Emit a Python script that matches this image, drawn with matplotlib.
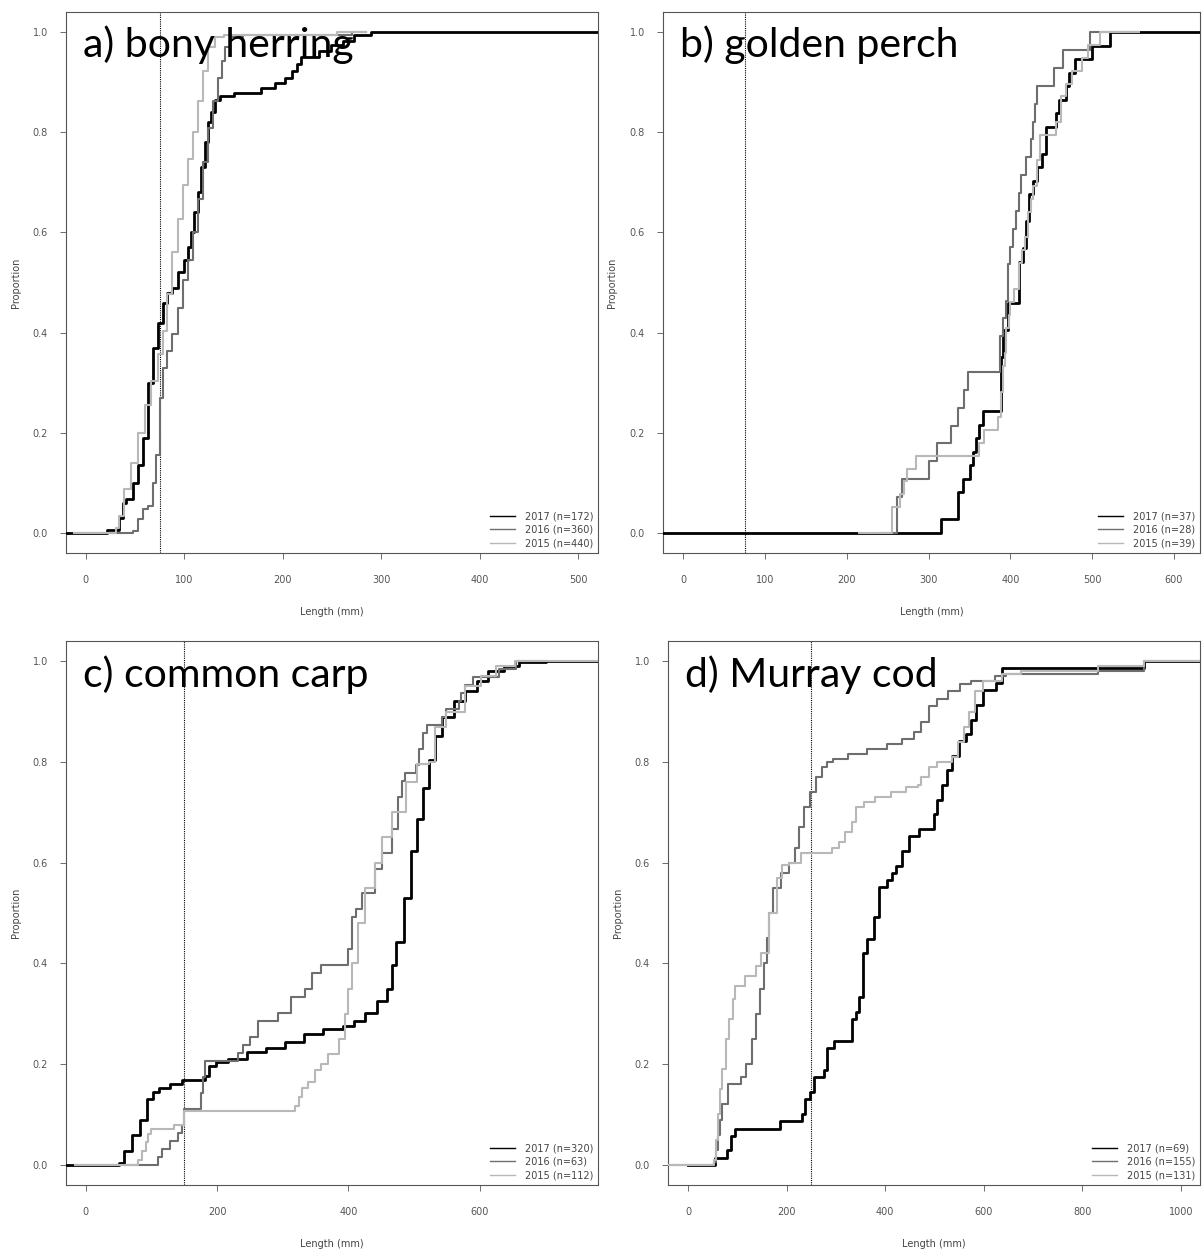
import matplotlib.pyplot as plt
from matplotlib.lines import Line2D

# ---- a) bony herring ----
A_2017_LEN = [22, 34, 38, 41, 48, 53, 58, 63, 68, 73, 78, 83, 88, 94, 100, 104, 107, 110, 114,
              117, 121, 124, 127, 131, 136, 151, 178, 192, 202, 209, 214, 219, 237, 249, 261, 272, 290]
A_2017_PROP = [0.006, 0.03, 0.06, 0.067, 0.10, 0.135, 0.19, 0.30, 0.37, 0.42, 0.46, 0.48, 0.49, 0.52,
               0.545, 0.57, 0.60, 0.64, 0.68, 0.73, 0.78, 0.82, 0.84, 0.865, 0.872, 0.879, 0.889, 0.899,
               0.909, 0.922, 0.936, 0.95, 0.963, 0.975, 0.983, 0.994, 1.0]
A_2016_LEN = [48, 53, 58, 63, 68, 71, 75, 78, 83, 88, 94, 99, 104, 109, 114, 119, 124, 129, 134,
              138, 141, 146, 160, 270]
A_2016_PROP = [0.003, 0.027, 0.047, 0.054, 0.10, 0.155, 0.27, 0.33, 0.364, 0.397, 0.45, 0.505, 0.545,
               0.60, 0.667, 0.74, 0.808, 0.862, 0.909, 0.943, 0.97, 0.99, 0.995, 1.0]
A_2015_LEN = [31, 34, 39, 46, 53, 60, 66, 73, 78, 83, 88, 94, 99, 104, 109, 114, 119, 124, 131, 140, 255]
A_2015_PROP = [0.01, 0.034, 0.088, 0.14, 0.20, 0.256, 0.303, 0.357, 0.404, 0.478, 0.56, 0.626, 0.694,
               0.747, 0.80, 0.862, 0.922, 0.97, 0.99, 0.995, 1.0]

# ---- b) golden perch ----
B_2017_LEN = [315, 336, 342, 350, 354, 358, 362, 366, 388, 391, 397, 411, 416, 419, 423, 428, 432,
              439, 444, 456, 460, 468, 472, 479, 500, 522]
B_2017_PROP = [0.027, 0.081, 0.108, 0.135, 0.162, 0.189, 0.216, 0.243, 0.351, 0.405, 0.459, 0.541,
               0.568, 0.622, 0.676, 0.703, 0.730, 0.757, 0.811, 0.838, 0.865, 0.892, 0.919, 0.946,
               0.973, 1.0]
B_2016_LEN = [261, 268, 301, 310, 327, 336, 343, 348, 387, 391, 395, 397, 400, 403, 407, 410, 413,
              419, 425, 428, 430, 432, 453, 464, 497]
B_2016_PROP = [0.071, 0.107, 0.143, 0.179, 0.214, 0.25, 0.286, 0.321, 0.393, 0.429, 0.464, 0.536,
               0.571, 0.607, 0.643, 0.679, 0.714, 0.75, 0.786, 0.821, 0.857, 0.893, 0.929, 0.964, 1.0]
B_2015_LEN = [255, 265, 270, 273, 285, 362, 368, 385, 388, 391, 393, 395, 398, 400, 405, 410, 414,
              418, 421, 425, 428, 433, 436, 456, 462, 468, 475, 488, 495, 510]
B_2015_PROP = [0.051, 0.077, 0.103, 0.128, 0.154, 0.179, 0.205, 0.231, 0.282, 0.333, 0.359, 0.41,
               0.436, 0.462, 0.487, 0.538, 0.564, 0.59, 0.641, 0.667, 0.692, 0.744, 0.795, 0.821,
               0.872, 0.897, 0.923, 0.949, 0.974, 1.0]

# ---- c) common carp ----
C_2017_LEN = [50, 58, 70, 82, 93, 102, 111, 128, 146, 181, 187, 199, 216, 245, 274, 304, 333, 362,
              391, 409, 426, 444, 458, 467, 473, 485, 496, 505, 514, 523, 532, 543, 561, 578, 596,
              613, 637, 660, 701]
C_2017_PROP = [0.004, 0.027, 0.059, 0.09, 0.13, 0.145, 0.153, 0.16, 0.169, 0.176, 0.196, 0.204, 0.21,
               0.224, 0.231, 0.243, 0.259, 0.27, 0.276, 0.286, 0.302, 0.325, 0.349, 0.396, 0.443,
               0.53, 0.624, 0.686, 0.749, 0.804, 0.851, 0.89, 0.92, 0.94, 0.96, 0.98, 0.99, 0.998, 1.0]
C_2016_LEN = [110, 116, 128, 140, 146, 150, 175, 178, 181, 232, 240, 250, 262, 293, 313, 334, 344,
              359, 400, 405, 412, 420, 441, 451, 466, 475, 481, 486, 503, 508, 514, 520, 543, 548,
              568, 572, 578, 590, 629, 655]
C_2016_PROP = [0.016, 0.032, 0.048, 0.063, 0.079, 0.111, 0.143, 0.175, 0.206, 0.222, 0.238, 0.254,
               0.286, 0.302, 0.333, 0.349, 0.381, 0.397, 0.429, 0.492, 0.508, 0.540, 0.587, 0.619,
               0.667, 0.73, 0.762, 0.778, 0.794, 0.825, 0.857, 0.873, 0.889, 0.905, 0.921, 0.937,
               0.952, 0.968, 0.984, 1.0]
C_2015_LEN = [79, 85, 92, 95, 100, 134, 150, 319, 324, 330, 339, 349, 359, 369, 385, 395, 400, 405,
              415, 425, 441, 451, 466, 487, 505, 522, 532, 549, 578, 602, 625, 654]
C_2015_PROP = [0.009, 0.027, 0.045, 0.062, 0.071, 0.080, 0.107, 0.116, 0.134, 0.152, 0.165, 0.188,
               0.2, 0.22, 0.25, 0.3, 0.35, 0.4, 0.48, 0.55, 0.6, 0.65, 0.7, 0.76, 0.795, 0.80, 0.87,
               0.9, 0.95, 0.97, 0.99, 1.0]

# ---- d) Murray cod ----
D_2017_LEN = [54, 79, 86, 96, 187, 231, 238, 248, 255, 275, 282, 296, 333, 340, 347, 354, 363, 377,
              387, 404, 414, 421, 435, 448, 469, 499, 506, 516, 526, 536, 550, 564, 574, 584, 598,
              625, 638, 926]
D_2017_PROP = [0.014, 0.029, 0.058, 0.072, 0.087, 0.101, 0.13, 0.145, 0.174, 0.188, 0.232, 0.246,
               0.29, 0.304, 0.333, 0.42, 0.449, 0.493, 0.551, 0.565, 0.58, 0.594, 0.623, 0.652,
               0.667, 0.696, 0.725, 0.754, 0.783, 0.812, 0.841, 0.855, 0.884, 0.913, 0.942, 0.957,
               0.986, 1.0]
D_2016_LEN = [52, 56, 60, 64, 68, 80, 107, 118, 130, 138, 146, 154, 159, 165, 173, 189, 204, 216,
              224, 236, 247, 259, 271, 282, 294, 325, 364, 403, 434, 458, 473, 489, 505, 528, 551,
              575, 622, 645, 832, 926]
D_2016_PROP = [0.006, 0.03, 0.06, 0.09, 0.12, 0.16, 0.175, 0.2, 0.25, 0.3, 0.35, 0.4, 0.45, 0.5,
               0.55, 0.58, 0.6, 0.63, 0.67, 0.71, 0.74, 0.77, 0.79, 0.80, 0.805, 0.815, 0.825, 0.835,
               0.845, 0.86, 0.88, 0.91, 0.925, 0.94, 0.955, 0.96, 0.97, 0.975, 0.98, 1.0]
D_2015_LEN = [52, 56, 60, 64, 69, 76, 83, 90, 96, 116, 137, 147, 164, 181, 191, 204, 228, 292, 306,
              318, 333, 340, 356, 380, 411, 442, 466, 473, 489, 505, 536, 548, 559, 571, 583, 598,
              637, 676, 832, 926]
D_2015_PROP = [0.01, 0.05, 0.1, 0.15, 0.19, 0.25, 0.29, 0.33, 0.355, 0.375, 0.395, 0.42, 0.5, 0.57,
               0.596, 0.60, 0.62, 0.63, 0.64, 0.66, 0.68, 0.71, 0.72, 0.73, 0.74, 0.75, 0.755, 0.77,
               0.79, 0.80, 0.81, 0.84, 0.87, 0.90, 0.94, 0.96, 0.975, 0.98, 0.99, 1.0]

TITLES = ['a) bony herring', 'b) golden perch', 'c) common carp', 'd) Murray cod']
YEARS = ['2017', '2016', '2015']
N_FISH = [[172, 360, 440], [37, 28, 39], [320, 63, 112], [69, 155, 131]]
CUTOFF = [75, 75, 150, 250]  # dotted reference lengths
XLIMS = [(-20, 520), (-25, 632), (-30, 780), (-41, 1039)]
XTICKS = [[0, 100, 200, 300, 400, 500], [0, 100, 200, 300, 400, 500, 600],
          [0, 200, 400, 600], [0, 200, 400, 600, 800, 1000]]
# where each curve's flat 0 / 1 lines start and stop
STARTS = [[-20, -12, -12], [-25, 240, 215], [-30, -17, -17], [0, -41, -41]]
ENDS = [[520, 285, 285], [632, 557, 557], [780, 700, 780], [1039, 1039, 1039]]

SERIES = [
    [(A_2017_LEN, A_2017_PROP), (A_2016_LEN, A_2016_PROP), (A_2015_LEN, A_2015_PROP)],
    [(B_2017_LEN, B_2017_PROP), (B_2016_LEN, B_2016_PROP), (B_2015_LEN, B_2015_PROP)],
    [(C_2017_LEN, C_2017_PROP), (C_2016_LEN, C_2016_PROP), (C_2015_LEN, C_2015_PROP)],
    [(D_2017_LEN, D_2017_PROP), (D_2016_LEN, D_2016_PROP), (D_2015_LEN, D_2015_PROP)],
]

COLORS = ['#000000', '#6e6e6e', '#b8b8b8']
WIDTHS = [2.0, 1.5, 1.5]

W, H = 1202, 1254
fig = plt.figure(figsize=(W / 100, H / 100), dpi=100)
fig.patch.set_facecolor('white')

# axes boxes in pixels: left, top, right, bottom
BOXES = [(66, 12, 598, 553), (663, 12, 1200, 553), (66, 641, 598, 1185), (668, 641, 1200, 1185)]

for i, (l, t, r, b) in enumerate(BOXES):
    ax = fig.add_axes([l / W, 1 - b / H, (r - l) / W, (b - t) / H])
    for k, (lens, props) in enumerate(SERIES[i]):
        xs = [STARTS[i][k]] + lens + [ENDS[i][k]]
        ys = [0] + props + [1]
        ax.step(xs, ys, where='post', color=COLORS[k], lw=WIDTHS[k], zorder=3 + k)

    ax.axvline(CUTOFF[i], color='black', lw=0.8, ls=(0, (1, 1)), zorder=2)

    ax.set_xlim(*XLIMS[i])
    ax.set_ylim(-0.04, 1.04)
    ax.set_xticks(XTICKS[i])
    ax.set_yticks([0, 0.2, 0.4, 0.6, 0.8, 1.0])
    ax.set_yticklabels(['0.0', '0.2', '0.4', '0.6', '0.8', '1.0'])
    ax.tick_params(labelsize=7, colors='#555555', length=4, width=0.6)
    ax.tick_params(axis='x', pad=12)
    ax.tick_params(axis='y', pad=9)
    for sp in ax.spines.values():
        sp.set_color('#555555')
        sp.set_linewidth(0.8)

    ax.set_xlabel('Length (mm)', fontsize=7, color='#444444')
    ax.set_ylabel('Proportion', fontsize=7, color='#444444')
    ax.xaxis.set_label_coords(0.5, -0.1)
    ax.yaxis.set_label_coords(-0.085, 0.5)

    ax.text(0.032, 0.916, TITLES[i], transform=ax.transAxes, fontsize=29.5,
            family='Lato', color='black', ha='left', va='baseline', zorder=10)

    handles = [Line2D([], [], color=COLORS[k], lw=1.0) for k in range(3)]
    labels = [f'{YEARS[k]} (n={N_FISH[i][k]})' for k in range(3)]
    leg = ax.legend(handles, labels, loc='lower right', frameon=False, fontsize=7,
                    handlelength=2.6, handletextpad=1.0, labelspacing=0.35,
                    borderaxespad=0.3, borderpad=0.2)
    for txt in leg.get_texts():
        txt.set_color('#444444')

fig.savefig('out.png', dpi=100, facecolor='white')
